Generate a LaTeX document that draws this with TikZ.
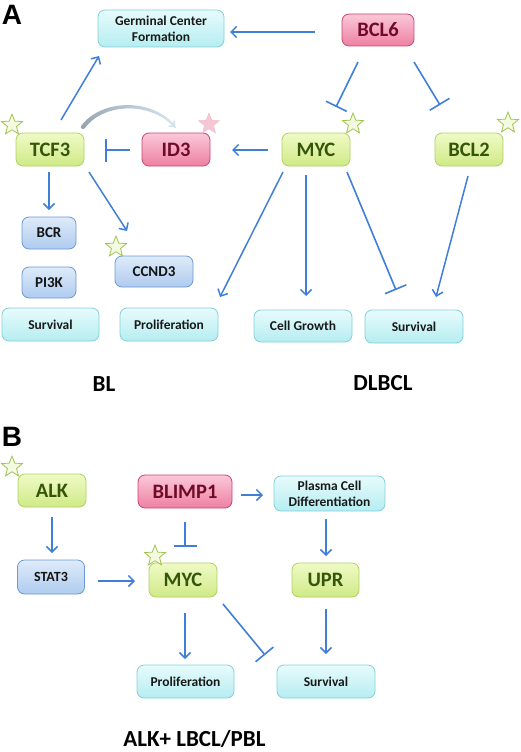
\documentclass[tikz,border=0pt]{standalone}
\usepackage{fontspec}
\setmainfont{Carlito}
\newfontfamily\labfont{Liberation Sans}
\usetikzlibrary{arrows.meta,shapes.geometric,calc}
\definecolor{arr}{HTML}{3F7FD9}
\definecolor{cyanD}{HTML}{84D0D7}
\definecolor{cyanT}{HTML}{E8FBFC}
\definecolor{cyanBo}{HTML}{B5EDF1}
\definecolor{grnD}{HTML}{AFD164}
\definecolor{grnT}{HTML}{F0FAC6}
\definecolor{grnBo}{HTML}{CFEA86}
\definecolor{grnTx}{HTML}{35560A}
\definecolor{pnkD}{HTML}{C9456E}
\definecolor{pnkT}{HTML}{FAC8D8}
\definecolor{pnkBo}{HTML}{EE80A4}
\definecolor{pnkTx}{HTML}{700A28}
\definecolor{bluD}{HTML}{6C98D6}
\definecolor{bluT}{HTML}{DEEBF9}
\definecolor{bluBo}{HTML}{AFCBEF}
\definecolor{starD}{HTML}{A2C452}
\definecolor{starF}{HTML}{F4FADF}
\definecolor{starP}{HTML}{F5C6D3}
\definecolor{fadeS}{HTML}{98A4AE}
\definecolor{fadeE}{HTML}{DCEEF5}
\tikzset{
  box/.style={rounded corners=7pt, inner sep=0pt, align=center, line width=0.8pt},
  small/.style={font=\bfseries\fontsize{13.5}{16}\selectfont},
  big/.style={font=\bfseries\fontsize{20.5}{22}\selectfont},
  cyanbox/.style={box, small, draw=cyanD, top color=cyanT, bottom color=cyanBo, text=black!90},
  grnbox/.style={box, big, draw=grnD, top color=grnT, bottom color=grnBo, text=grnTx},
  pnkbox/.style={box, big, draw=pnkD, top color=pnkT, bottom color=pnkBo, text=pnkTx},
  blubox/.style={box, font=\bfseries\fontsize{15}{17}\selectfont, draw=bluD, top color=bluT, bottom color=bluBo, text=black!92},
  act/.style={draw=arr, line width=1.5pt, -{Straight Barb[length=5.5pt,width=11pt]}},
  inh/.style={draw=arr, line width=1.6pt, -{Bar[width=23pt]}},
  gstar/.style={star, star points=5, star point ratio=2.3, minimum size=22pt, inner sep=0pt, draw=starD, fill=starF, line width=0.8pt},
  pstar/.style={star, star points=5, star point ratio=2.3, minimum size=22pt, inner sep=0pt, draw=starP!90!pnkD, fill=starP, line width=0.4pt},
  panel/.style={font=\labfont\bfseries\fontsize{28}{30}\selectfont},
  grouplab/.style={font=\bfseries\fontsize{23}{25}\selectfont}
}
\begin{document}
\begin{tikzpicture}[x=1pt,y=-1pt]
\useasboundingbox (0,0) rectangle (520,752);
% ---------- Panel A ----------
\node[panel] (labA) at (12,15) {A};
\node[cyanbox, minimum width=126pt, minimum height=37pt] (gcf) at (161,28.5) {Germinal Center\\Formation};
\node[pnkbox, minimum width=72pt, minimum height=32pt] (bcl6) at (378,30) {BCL6};
\node[grnbox, minimum width=68pt, minimum height=33pt] (tcf) at (50,149.5) {TCF3};
\node[pnkbox, minimum width=68pt, minimum height=33pt] (id3) at (176,149.5) {ID3};
\node[grnbox, minimum width=68pt, minimum height=33pt] (myc) at (316,149.5) {MYC};
\node[grnbox, minimum width=68pt, minimum height=33pt] (bcl2) at (469,149.5) {BCL2};
\node[blubox, minimum width=54pt, minimum height=32pt] (bcr) at (49,233) {BCR};
\node[blubox, minimum width=54pt, minimum height=31pt] (pi3k) at (49,282.5) {PI3K};
\node[blubox, minimum width=78pt, minimum height=31pt] (ccnd3) at (154,271.5) {CCND3};
\node[cyanbox, minimum width=97pt, minimum height=33pt] (survA) at (50.5,324.5) {Survival};
\node[cyanbox, minimum width=98pt, minimum height=33pt] (prolA) at (169,324.5) {Proliferation};
\node[cyanbox, minimum width=98pt, minimum height=32pt] (cellg) at (303,326) {Cell Growth};
\node[cyanbox, minimum width=98pt, minimum height=33pt] (survD) at (414,326.5) {Survival};
\node[grouplab] (bl) at (104,384) {BL};
\node[grouplab] (dlbcl) at (383,383) {DLBCL};
% stars A
\node[gstar] (s1) at (12,125) {};
\node[pstar] (s2) at (209,124) {};
\node[gstar] (s3) at (353,124) {};
\node[gstar] (s4) at (508,123) {};
\node[gstar] (s5) at (116,247) {};
% faded curved arrow TCF3 -> ID3
\coordinate (cs) at ($(tcf.center)+(33,-22.5)$);
\coordinate (ce) at ($(id3.center)+(-1,-22.5)$);
\path (cs) .. controls +(20,-27) and +(-22,-27) .. (ce)
  foreach \i in {0,...,24} { coordinate[pos=\i/24] (g\i) };
\foreach \i in {0,...,23} {
  \pgfmathtruncatemacro{\j}{\i+1}
  \pgfmathsetmacro{\p}{100-4*\i}
  \pgfmathsetmacro{\w}{4.2-0.08*\i}
  \draw[line width=\w pt, line cap=round, draw=fadeS!\p!fadeE] (g\i) -- (g\j);
}
\draw[draw=fadeE!85!fadeS, line width=1.6pt, -{Straight Barb[length=4pt,width=8pt]}] (g22) -- (g24);
% connectors A
\draw[act] ($(bcl6.center)+(-63,2)$) -- ($(gcf.center)+(69,3.5)$);
\draw[act] ($(tcf.center)+(11,-29.5)$) -- ($(gcf.center)+(-62,27.5)$);
\draw[inh] ($(id3.center)+(-46,0.5)$) -- ($(tcf.center)+(55,0.5)$);
\draw[act] ($(myc.center)+(-48,0.5)$) -- ($(id3.center)+(56,0.5)$);
\draw[inh] ($(bcl6.center)+(-20,32)$) -- ($(myc.center)+(20,-42.5)$);
\draw[inh] ($(bcl6.center)+(36,32)$) -- ($(bcl2.center)+(-29,-44.5)$);
\draw[act] ($(tcf.center)+(-1,22.5)$) -- ($(bcr.center)+(0,-23)$);
\draw[act] ($(tcf.center)+(39,22.5)$) -- ($(ccnd3.center)+(-27,-40.5)$);
\draw[act] ($(myc.center)+(-33,22.5)$) -- ($(prolA.center)+(51,-27.5)$);
\draw[act] ($(myc.center)+(-10,25.5)$) -- ($(cellg.center)+(3,-30)$);
\draw[inh] ($(myc.center)+(31,22.5)$) -- ($(survD.center)+(-18,-36.5)$);
\draw[act] ($(bcl2.center)+(-1,26.5)$) -- ($(survD.center)+(22,-29.5)$);
% ---------- Panel B ----------
\node[panel] (labB) at (12,437) {B};
\node[grnbox, minimum width=68pt, minimum height=33pt] (alk) at (52,490.5) {ALK};
\node[pnkbox, minimum width=94pt, minimum height=33pt] (blimp) at (185,491.5) {BLIMP1};
\node[cyanbox, minimum width=111pt, minimum height=35pt] (pcd) at (329.5,493.5) {Plasma Cell\\Differentiation};
\node[blubox, font=\bfseries\fontsize{14}{16}\selectfont, minimum width=67pt, minimum height=34pt] (stat3) at (51,577) {STAT3};
\node[grnbox, minimum width=68pt, minimum height=34pt] (mycB) at (183,580) {MYC};
\node[grnbox, minimum width=67pt, minimum height=34pt] (upr) at (325.5,580) {UPR};
\node[cyanbox, minimum width=97pt, minimum height=33pt] (prolB) at (185.5,681.5) {Proliferation};
\node[cyanbox, minimum width=98pt, minimum height=33pt] (survB) at (326,681.5) {Survival};
\node[grouplab, anchor=base, inner sep=0pt] (alkl) at (194.5,746.5) {ALK+ LBCL/PBL};
\node[gstar] (s6) at (12,467) {};
\node[gstar] (s7) at (155,556) {};
\draw[act] ($(alk.center)+(0,26.5)$) -- ($(stat3.center)+(1,-24)$);
\draw[inh] ($(blimp.center)+(0,30.5)$) -- ($(mycB.center)+(2,-33)$);
\draw[act] ($(stat3.center)+(47,4)$) -- ($(mycB.center)+(-48,1)$);
\draw[act] ($(blimp.center)+(56,3.5)$) -- ($(pcd.center)+(-66.5,1.5)$);
\draw[act] ($(pcd.center)+(-3.5,25.5)$) -- ($(upr.center)+(0.5,-24)$);
\draw[act] ($(upr.center)+(0.5,29)$) -- ($(survB.center)+(0,-27.5)$);
\draw[act] ($(mycB.center)+(2,33)$) -- ($(prolB.center)+(-0.5,-22.5)$);
\draw[inh] ($(mycB.center)+(40,24)$) -- ($(survB.center)+(-61,-26.5)$);
\end{tikzpicture}
\end{document}
